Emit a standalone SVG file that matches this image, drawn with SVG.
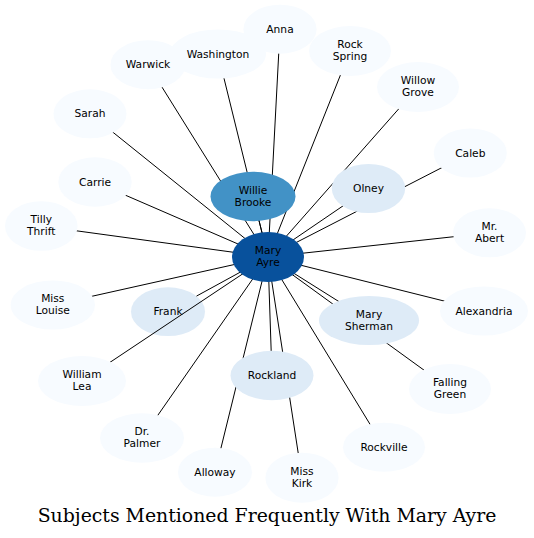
<svg xmlns="http://www.w3.org/2000/svg" width="534" height="538" viewBox="0 0 534 538">
<style>
text{font-family:"DejaVu Sans","Liberation Sans",sans-serif;font-size:10.67px;fill:#000;text-anchor:middle}
.c1{fill:#f7fbff}.c2{fill:#deebf7}.c3{fill:#4292c6}.c4{fill:#08519c}
#edges line{stroke:#000;stroke-width:1}
.title{font-family:"DejaVu Serif","Liberation Serif",serif;font-size:18.87px}
</style>
<rect width="534" height="538" fill="#fff"/>
<g id="frank"><ellipse class="c2" cx="168" cy="311.7" rx="37" ry="24.4"/><text x="168" y="315.2">Frank</text></g>
<g id="edges">
<line x1="268" y1="257" x2="280" y2="29.2"/>
<line x1="268" y1="257" x2="218" y2="54"/>
<line x1="268" y1="257" x2="148" y2="64.7"/>
<line x1="268" y1="257" x2="350" y2="51"/>
<line x1="268" y1="257" x2="418" y2="87"/>
<line x1="268" y1="257" x2="90" y2="113.8"/>
<line x1="268" y1="257" x2="470.3" y2="153"/>
<line x1="268" y1="257" x2="95" y2="182"/>
<line x1="268" y1="257" x2="41.3" y2="226"/>
<line x1="268" y1="257" x2="489.5" y2="232.8"/>
<line x1="268" y1="257" x2="52.8" y2="305"/>
<line x1="268" y1="257" x2="484" y2="311"/>
<line x1="268" y1="257" x2="82" y2="381"/>
<line x1="268" y1="257" x2="450" y2="389"/>
<line x1="268" y1="257" x2="142" y2="438"/>
<line x1="268" y1="257" x2="384" y2="447.2"/>
<line x1="268" y1="257" x2="215" y2="472.2"/>
<line x1="268" y1="257" x2="302" y2="477.7"/>
<line x1="268" y1="257" x2="253" y2="196.5"/>
<line x1="268" y1="257" x2="368.5" y2="188.5"/>
<line x1="268" y1="257" x2="196.5" y2="296.1"/>
<line x1="268" y1="257" x2="369" y2="320.5"/>
<line x1="268" y1="257" x2="272" y2="375.5"/>
</g>
<g id="anna"><ellipse class="c1" cx="280" cy="29.2" rx="36.6" ry="24.5"/><text x="280" y="32.7">Anna</text></g>
<g id="washington"><ellipse class="c1" cx="218" cy="54" rx="48" ry="24.5"/><text x="218" y="57.5">Washington</text></g>
<g id="warwick"><ellipse class="c1" cx="148" cy="64.7" rx="37.5" ry="24.5"/><text x="148" y="68.2">Warwick</text></g>
<g id="rock_spring"><ellipse class="c1" cx="350" cy="51" rx="41" ry="25"/><text x="350" y="48.2">Rock</text><text x="350" y="60.2">Spring</text></g>
<g id="willow_grove"><ellipse class="c1" cx="418" cy="87" rx="41" ry="25"/><text x="418" y="84.2">Willow</text><text x="418" y="96.2">Grove</text></g>
<g id="sarah"><ellipse class="c1" cx="90" cy="113.8" rx="36.5" ry="24.5"/><text x="90" y="117.3">Sarah</text></g>
<g id="caleb"><ellipse class="c1" cx="470.3" cy="153" rx="36.5" ry="24.5"/><text x="470.3" y="156.5">Caleb</text></g>
<g id="carrie"><ellipse class="c1" cx="95" cy="182" rx="36.7" ry="24.7"/><text x="95" y="185.5">Carrie</text></g>
<g id="tilly_thrift"><ellipse class="c1" cx="41.3" cy="226" rx="36.3" ry="24.8"/><text x="41.3" y="223.2">Tilly</text><text x="41.3" y="235.2">Thrift</text></g>
<g id="mr_abert"><ellipse class="c1" cx="489.5" cy="232.8" rx="36.5" ry="24.5"/><text x="489.5" y="230">Mr.</text><text x="489.5" y="242">Abert</text></g>
<g id="miss_louise"><ellipse class="c1" cx="52.8" cy="305" rx="42.2" ry="24.5"/><text x="52.8" y="302.2">Miss</text><text x="52.8" y="314.2">Louise</text></g>
<g id="alexandria"><ellipse class="c1" cx="484" cy="311" rx="44" ry="24.5"/><text x="484" y="314.5">Alexandria</text></g>
<g id="william_lea"><ellipse class="c1" cx="82" cy="381" rx="44" ry="25"/><text x="82" y="378.2">William</text><text x="82" y="390.2">Lea</text></g>
<g id="falling_green"><ellipse class="c1" cx="450" cy="389" rx="41" ry="25"/><text x="450" y="386.2">Falling</text><text x="450" y="398.2">Green</text></g>
<g id="dr_palmer"><ellipse class="c1" cx="142" cy="438" rx="42" ry="24.7"/><text x="142" y="435.2">Dr.</text><text x="142" y="447.2">Palmer</text></g>
<g id="rockville"><ellipse class="c1" cx="384" cy="447.2" rx="41" ry="24.5"/><text x="384" y="450.7">Rockville</text></g>
<g id="alloway"><ellipse class="c1" cx="215" cy="472.2" rx="37" ry="24.5"/><text x="215" y="475.7">Alloway</text></g>
<g id="miss_kirk"><ellipse class="c1" cx="302" cy="477.7" rx="36.6" ry="25"/><text x="302" y="474.9">Miss</text><text x="302" y="486.9">Kirk</text></g>
<g id="willie_brooke"><ellipse class="c3" cx="253" cy="196.5" rx="42.5" ry="24.7"/><text x="253" y="193.7">Willie</text><text x="253" y="205.7">Brooke</text></g>
<g id="olney"><ellipse class="c2" cx="368.5" cy="188.5" rx="36.7" ry="24.6"/><text x="368.5" y="192">Olney</text></g>
<g id="mary_sherman"><ellipse class="c2" cx="369" cy="320.5" rx="50" ry="24.5"/><text x="369" y="317.7">Mary</text><text x="369" y="329.7">Sherman</text></g>
<g id="rockland"><ellipse class="c2" cx="272" cy="375.5" rx="41.5" ry="24.7"/><text x="272" y="379">Rockland</text></g>
<g id="mary_ayre"><ellipse class="c4" cx="268" cy="257" rx="36" ry="25"/><text x="268" y="254.2">Mary</text><text x="268" y="266.2">Ayre</text></g>
<text class="title" x="267" y="522">Subjects Mentioned Frequently With Mary Ayre</text>
</svg>
